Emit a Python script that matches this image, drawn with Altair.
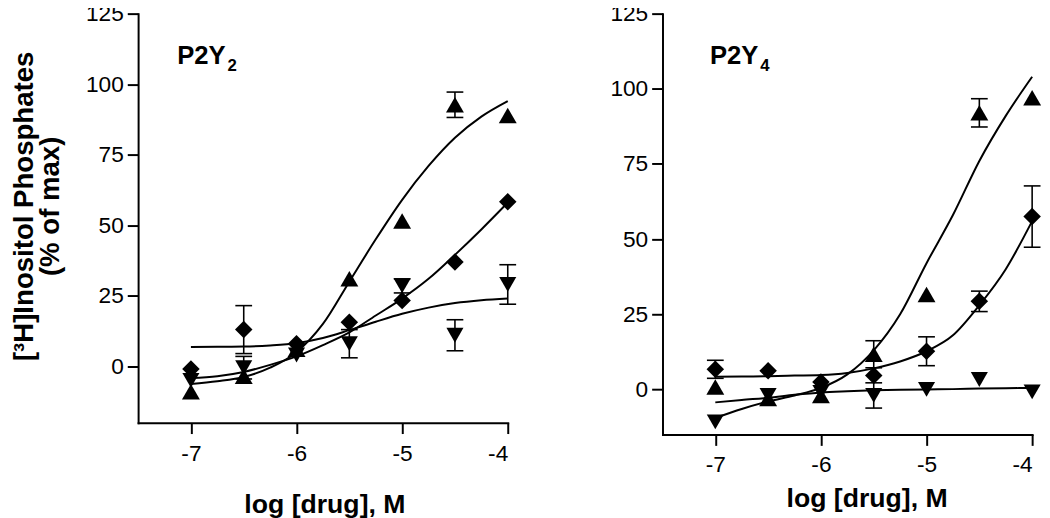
import altair as alt
import pandas as pd

# ---------------- data ----------------
doses = [-7, -6.5, -6, -5.5, -5, -4.5, -4]

# P2Y2 panel
p2y2_up = [-9, -3.5, 6, 31, 51.5, 92.7, 88.9]
p2y2_up_err = [0, 0, 0, 0, 0, 4.5, 0]
p2y2_diamond = [-1, 13, 8, 15.6, 23.3, 37, 58.3]
p2y2_diamond_err = [0, 8.5, 0, 0, 0, 0, 0]
p2y2_down = [-5, -0.5, 4, 8, 28.5, 11, 29]
p2y2_down_err = [0, 4, 0, 5, 2.5, 5.5, 7]

# P2Y4 panel
p2y4_up = [0.8, -3, -2, 11.7, 31.6, 92, 97]
p2y4_up_err = [0, 0, 0, 4.5, 0, 4.7, 0]
p2y4_diamond = [6.7, 6.2, 2.5, 4.6, 12.7, 29.3, 57.5]
p2y4_diamond_err = [3, 0, 0, 0, 4.8, 3.4, 10.2]
p2y4_down = [-10.8, -2, -1, -2, 0, 3.3, -0.8]
p2y4_down_err = [0, 0, 0, 4.2, 0, 0, 0]

curve_x = [-7, -6.75, -6.5, -6.25, -6, -5.75, -5.5, -5.25, -5, -4.75, -4.5, -4.25, -4]
p2y2_up_curve = [-6.3, -5.3, -3.8, -0.5, 5, 15, 30, 45, 59, 71, 81, 88.5, 94]
p2y2_diamond_curve = [-4.2, -3.5, -2, 0.5, 3.5, 7.5, 12, 18, 24, 31, 39.5, 48.5, 58]
p2y2_down_curve = [6.8, 6.9, 7, 7.4, 8.2, 10, 12.8, 15.8, 18.6, 20.8, 22.4, 23.4, 24]
p2y4_up_curve = [-9.5, -6.5, -4, -2, 0.5, 5, 13, 25, 42, 58, 76, 91, 104]
p2y4_diamond_curve = [4.2, 4.3, 4.4, 4.6, 4.8, 5.5, 7, 9.3, 12.7, 18, 28, 40, 56]
p2y4_down_curve = [-4.3, -3.5, -2.8, -1.8, -1, -0.6, -0.3, -0.1, 0, 0.1, 0.3, 0.4, 0.5]

groups = ["up", "diamond", "down"]
shapes = ["triangle-up", "diamond", "triangle-down"]
sizes = [330, 300, 330]

panel_names = ["P2Y", "P2Y"]
panel_subs = ["2", "4"]
label_x = [-7.13, -7.05]
label_y = [107, 108.2]

x_ticks = [-7, -6, -5, -4]
y_ticks = [0, 25, 50, 75, 100, 125]
x_title = "log [drug], M"
y_title = ["[³H]Inositol Phosphates", "(% of max)"]

FONT = "Liberation Sans"
LABEL_SIZE = 23


def points_df(series, errs):
    rows = []
    for g, vals, ers in zip(groups, series, errs):
        for d, v, e in zip(doses, vals, ers):
            rows.append({"dose": d, "value": v, "err": e, "group": g})
    return pd.DataFrame(rows)


def curves_df(curves):
    rows = []
    for g, vals in zip(groups, curves):
        for d, v in zip(curve_x, vals):
            rows.append({"dose": d, "value": v, "group": g})
    return pd.DataFrame(rows)


def panel(pts, crv, y_domain, height, idx, show_ytitle, xtitle_x, xtitle_y):
    xs = alt.Scale(domain=[-7.5, -4], nice=False, zero=False)
    ys = alt.Scale(domain=y_domain, nice=False, zero=False)
    x_axis = alt.Axis(values=x_ticks, title=x_title, labelExpr="'' + datum.value",
                      titleX=xtitle_x, titleY=xtitle_y, titleBaseline="middle",
                      labelPadding=9, labelFont=FONT, labelFontSize=LABEL_SIZE,
                      titleFontSize=27)
    if show_ytitle:
        y_axis = alt.Axis(values=y_ticks, title=y_title, labelExpr="'' + datum.value",
                          titleLineHeight=26, titleX=-101, titleY=195, titleFontSize=28,
                          labelPadding=4, labelFont=FONT, labelFontSize=LABEL_SIZE)
    else:
        y_axis = alt.Axis(values=y_ticks, title=None, labelExpr="'' + datum.value",
                          labelPadding=4, labelFont=FONT, labelFontSize=LABEL_SIZE)
    X = alt.X("dose:Q", scale=xs, axis=x_axis)
    Y = alt.Y("value:Q", scale=ys, axis=y_axis)

    lines = alt.Chart(crv).mark_line(interpolate="monotone", color="black", strokeWidth=2).encode(
        x=X, y=Y, detail="group:N")

    base_err = alt.Chart(pts).transform_filter("datum.err > 0").transform_calculate(
        lo="datum.value - datum.err", hi="datum.value + datum.err")
    rules = base_err.mark_rule(color="black", strokeWidth=1.6).encode(
        x=X, y=alt.Y("lo:Q", scale=ys, axis=y_axis), y2="hi:Q")
    cap_hi = base_err.mark_tick(orient="horizontal", color="black", size=17, thickness=1.6,
                                opacity=1).encode(x=X, y=alt.Y("hi:Q", scale=ys, axis=y_axis))
    cap_lo = base_err.mark_tick(orient="horizontal", color="black", size=17, thickness=1.6,
                                opacity=1).encode(x=X, y=alt.Y("lo:Q", scale=ys, axis=y_axis))

    marks = alt.Chart(pts).mark_point(filled=True, color="black", opacity=1, strokeWidth=0).encode(
        x=X, y=Y,
        shape=alt.Shape("group:N", scale=alt.Scale(domain=groups, range=shapes), legend=None),
        size=alt.Size("group:N", scale=alt.Scale(domain=groups, range=sizes), legend=None),
    )

    lab = pd.DataFrame({"dose": [label_x[idx]], "value": [label_y[idx]],
                        "name": [panel_names[idx]], "sub": [panel_subs[idx]]})
    name_txt = alt.Chart(lab).mark_text(align="left", baseline="alphabetic", font=FONT,
                                        fontSize=26, fontWeight="bold", color="black").encode(
        x=X, y=Y, text="name:N")
    sub_txt = alt.Chart(lab).mark_text(align="left", baseline="alphabetic", font=FONT,
                                       fontSize=17, fontWeight="bold", color="black",
                                       dx=51, dy=7).encode(x=X, y=Y, text="sub:N")

    return alt.layer(lines, rules, cap_hi, cap_lo, marks, name_txt, sub_txt).properties(
        width=375, height=height)


left = panel(points_df([p2y2_up, p2y2_diamond, p2y2_down],
                       [p2y2_up_err, p2y2_diamond_err, p2y2_down_err]),
             curves_df([p2y2_up_curve, p2y2_diamond_curve, p2y2_down_curve]),
             [-20, 125], 415, 0, True, 189, 83)
right = panel(points_df([p2y4_up, p2y4_diamond, p2y4_down],
                        [p2y4_up_err, p2y4_diamond_err, p2y4_down_err]),
              curves_df([p2y4_up_curve, p2y4_diamond_curve, p2y4_down_curve]),
              [-15, 125], 427, 1, False, 207, 65)

chart = alt.hconcat(left, right, spacing=93).properties(
    padding={"left": 2, "top": -9, "right": 0, "bottom": 0}
).configure_view(strokeWidth=0).configure_axis(
    grid=False, domainColor="black", tickColor="black", domainWidth=2, tickWidth=2,
    tickSize=11, labelFont=FONT, labelFontSize=LABEL_SIZE, labelColor="black",
    titleFont=FONT, titleFontSize=27, titleFontWeight="bold", titleColor="black",
    domainCap="square"
)

chart.save("out.html", embed_options={"renderer": "svg", "actions": False})
